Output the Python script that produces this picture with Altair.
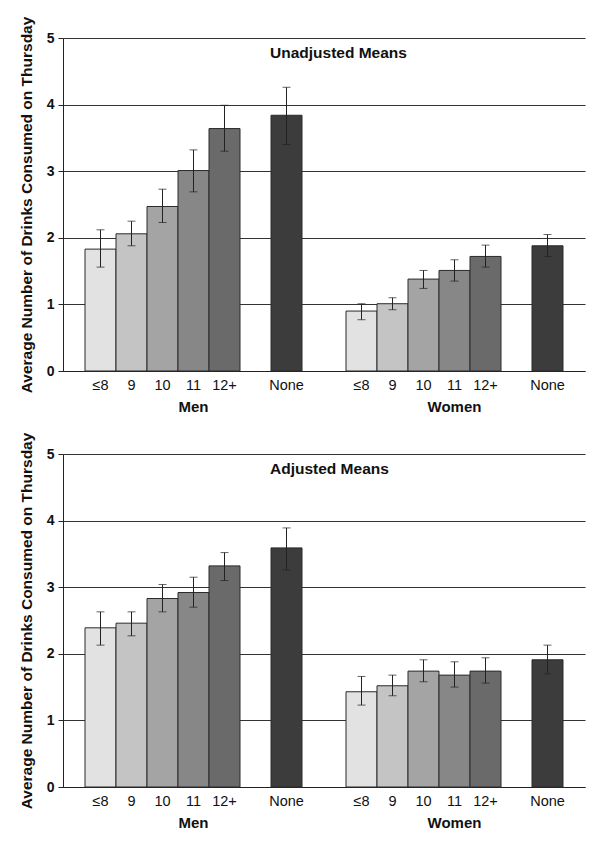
import altair as alt
import pandas as pd

# ---- data ----
levels = ["≤8", "9", "10", "11", "12+", "None"]
slots = ["≤8", "9", "10", "11", "12+", " ", "None"]
sexes = ["Men", "Women"]
panels = ["Unadjusted Means", "Adjusted Means"]

men_unadj = [1.83, 2.06, 2.47, 3.01, 3.64, 3.84]
men_unadj_hi = [2.12, 2.25, 2.73, 3.32, 3.99, 4.26]
men_unadj_lo = [1.56, 1.88, 2.23, 2.69, 3.30, 3.40]
women_unadj = [0.90, 1.01, 1.38, 1.51, 1.72, 1.88]
women_unadj_hi = [1.01, 1.10, 1.51, 1.67, 1.89, 2.05]
women_unadj_lo = [0.77, 0.92, 1.24, 1.35, 1.56, 1.72]

men_adj = [2.39, 2.46, 2.83, 2.92, 3.32, 3.59]
men_adj_hi = [2.63, 2.63, 3.04, 3.15, 3.52, 3.89]
men_adj_lo = [2.13, 2.27, 2.63, 2.70, 3.10, 3.26]
women_adj = [1.43, 1.52, 1.74, 1.68, 1.74, 1.91]
women_adj_hi = [1.66, 1.68, 1.91, 1.88, 1.94, 2.13]
women_adj_lo = [1.23, 1.37, 1.58, 1.50, 1.56, 1.70]

fills = ["#e2e2e2", "#c4c4c4", "#a4a4a4", "#878787", "#6a6a6a", "#3c3c3c"]

FONT = "Liberation Sans"
W, H = 522, 333


def table(m, mhi, mlo, w, whi, wlo):
    rows = []
    for sex, v, hi, lo in [("Men", m, mhi, mlo), ("Women", w, whi, wlo)]:
        for i, lev in enumerate(levels):
            rows.append({"sex": sex, "level": lev, "value": v[i], "hi": hi[i], "lo": lo[i]})
    return pd.DataFrame(rows)


def panel(df, title):
    xs = alt.X("sex:N", sort=sexes,
               scale=alt.Scale(paddingInner=44 / 261, paddingOuter=22 / 261),
               axis=alt.Axis(title=None, ticks=False, labelAngle=0, labelFont=FONT,
                             labelFontSize=15, labelFontWeight="bold", labelColor="#111",
                             labelPadding=28, domainColor="#222", domainWidth=1))
    xo = alt.XOffset("level:N", sort=slots, scale=alt.Scale(domain=slots, paddingInner=0, paddingOuter=0))
    ys = alt.Y("value:Q",
               scale=alt.Scale(domain=[0, 5]),
               axis=alt.Axis(values=[0, 1, 2, 3, 4, 5], format="d", title="Average Number of Drinks Consumed on Thursday",
                             titleFont=FONT, titleFontSize=15.5, titleFontWeight="bold", titleColor="#111",
                             titlePadding=12,
                             labelFont=FONT, labelFontSize=14, labelFontWeight="bold", labelColor="#111",
                             labelPadding=4, tickSize=5, tickColor="#222", domainColor="#222",
                             grid=True, gridColor="#333", gridWidth=1))
    base = alt.Chart(df)
    bars = base.mark_bar(stroke="#2a2a2a", strokeWidth=1).encode(
        x=xs, xOffset=xo, y=ys,
        fill=alt.Fill("level:N", scale=alt.Scale(domain=levels, range=fills), legend=None),
    )
    err = base.mark_rule(color="#222", strokeWidth=1).encode(
        x=alt.X("sex:N", sort=sexes), xOffset=alt.XOffset("level:N", sort=slots),
        y=alt.Y("lo:Q"), y2="hi:Q")
    cap_hi = base.mark_tick(color="#222", thickness=1, size=8, orient="horizontal").encode(
        x=alt.X("sex:N", sort=sexes), xOffset=alt.XOffset("level:N", sort=slots), y=alt.Y("hi:Q"))
    cap_lo = base.mark_tick(color="#222", thickness=1, size=8, orient="horizontal").encode(
        x=alt.X("sex:N", sort=sexes), xOffset=alt.XOffset("level:N", sort=slots), y=alt.Y("lo:Q"))
    labels = base.mark_text(font=FONT, fontSize=14.5, color="#111", baseline="middle").encode(
        x=alt.X("sex:N", sort=sexes), xOffset=alt.XOffset("level:N", sort=slots),
        y=alt.value(H + 15), text="level:N")
    ttl = alt.Chart(pd.DataFrame({"t": [title]})).mark_text(
        font=FONT, fontSize=15.5, fontWeight="bold", color="#111", baseline="middle", align="left").encode(
        x=alt.value(207), y=alt.value(15), text="t:N")
    return alt.layer(bars, err, cap_hi, cap_lo, labels, ttl).properties(width=W, height=H)


top = panel(table(men_unadj, men_unadj_hi, men_unadj_lo, women_unadj, women_unadj_hi, women_unadj_lo), panels[0])
bottom = panel(table(men_adj, men_adj_hi, men_adj_lo, women_adj, women_adj_hi, women_adj_lo), panels[1])

chart = alt.vconcat(top, bottom, spacing=18).properties(
    padding={"left": 11, "top": 8, "right": 5, "bottom": 5}
).configure_view(stroke=None).configure_axis(gridDash=[])

chart.save("out.html", embed_options={"renderer": "svg", "actions": False})
